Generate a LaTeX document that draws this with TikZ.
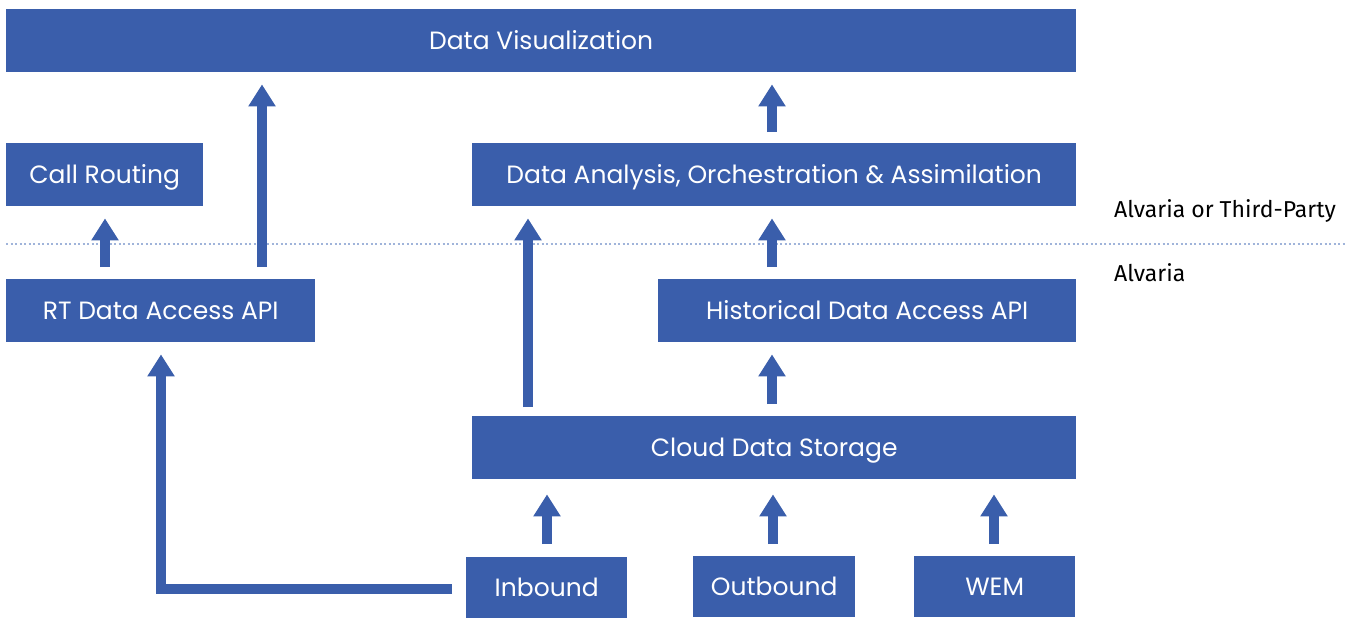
\documentclass[tikz,border=0pt]{standalone}
\usepackage{fontspec}
\setmainfont{Poppins}
\newfontfamily\labfont{Fira Sans}
\usetikzlibrary{arrows.meta}
\definecolor{boxblue}{RGB}{58,94,171}
\definecolor{dotblue}{RGB}{160,180,218}
\tikzset{
  box/.style={fill=boxblue, draw=none, text=white, font=\fontsize{25}{30}\selectfont, inner sep=0pt, text height=17.5pt, text depth=0pt, anchor=north west},
  fat/.style={draw=boxblue, line width=10pt, line join=miter, -{Triangle[width=26pt,length=22pt]}},
  side/.style={font=\labfont\fontsize{23}{27}\selectfont, anchor=west, inner sep=0pt, text=black}
}
\begin{document}
\begin{tikzpicture}[x=1pt,y=-1pt]
\useasboundingbox (0,0) rectangle (1346,618);
% boxes
\node[box, minimum width=1070pt, minimum height=63pt] (dv) at (6,9) {Data Visualization};
\node[box, minimum width=197pt, minimum height=63pt] (cr) at (6,143) {Call Routing};
\node[box, minimum width=604pt, minimum height=63pt] (da) at (472,143) {Data Analysis, Orchestration \& Assimilation};
\node[box, minimum width=309pt, minimum height=63pt] (rt) at (6,279) {RT Data Access API};
\node[box, minimum width=418pt, minimum height=63pt] (hd) at (658,279) {Historical Data Access API};
\node[box, minimum width=604pt, minimum height=63pt] (cs) at (472,416) {Cloud Data Storage};
\node[box, minimum width=161pt, minimum height=61pt] (ib) at (466,557) {Inbound};
\node[box, minimum width=162pt, minimum height=61pt] (ob) at (693,556) {Outbound};
\node[box, minimum width=161pt, minimum height=61pt] (wem) at (914,556) {WEM};
% separator
\coordinate (ls) at (6,244);
\coordinate (le) at (1346,244);
\draw[dotblue, line width=1.2pt, dash pattern=on 2pt off 2.5pt] (ls) -- (le);
\node[side] (l1) at (1114,211) {Alvaria or Third-Party};
\node[side] (l2) at (1114,273) {Alvaria};
% arrow columns
\coordinate (c1) at (105,0);
\coordinate (c2) at (262,0);
\coordinate (c3) at (772,0);
\coordinate (c4) at (528,0);
\coordinate (c5) at (547,0);
\coordinate (c6) at (773,0);
\coordinate (c7) at (994,0);
\coordinate (c8) at (161,0);
% arrows
\draw[fat] ([yshift=12pt]rt.north -| c1) -- ([yshift=-12pt]cr.south -| c1);
\draw[fat] ([yshift=12pt]rt.north -| c2) -- ([yshift=-12pt]dv.south -| c2);
\draw[fat] ([yshift=11pt]da.north -| c3) -- ([yshift=-12pt]dv.south -| c3);
\draw[fat] ([yshift=9pt]cs.north -| c4) -- ([yshift=-12pt]da.south -| c4);
\draw[fat] ([yshift=12pt]hd.north -| c3) -- ([yshift=-12pt]da.south -| c3);
\draw[fat] ([yshift=12pt]cs.north -| c3) -- ([yshift=-12pt]hd.south -| c3);
\draw[fat] ([yshift=13pt]ib.north -| c5) -- ([yshift=-15pt]cs.south -| c5);
\draw[fat] ([yshift=12pt]ob.north -| c6) -- ([yshift=-15pt]cs.south -| c6);
\draw[fat] ([yshift=12pt]wem.north -| c7) -- ([yshift=-15pt]cs.south -| c7);
\draw[fat] ([xshift=-14pt,yshift=-1.5pt]ib.west) -| ([yshift=-12pt]rt.south -| c8);
\end{tikzpicture}
\end{document}
